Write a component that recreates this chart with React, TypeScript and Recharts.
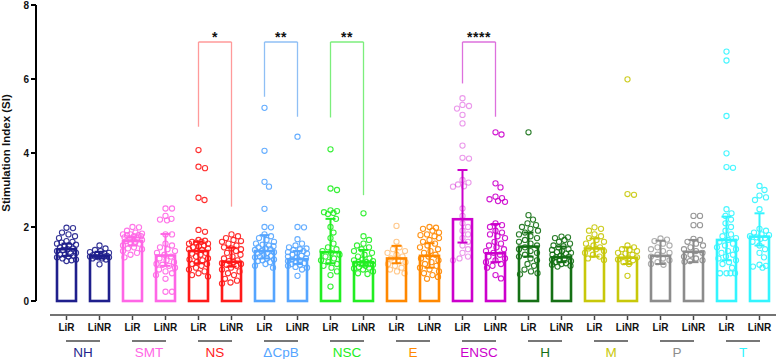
import React from 'react';
import { ComposedChart, Bar, Scatter, XAxis, YAxis, ReferenceLine } from 'recharts';

// ---------- data ----------
const groups = ['NH', 'SMT', 'NS', 'ΔCpB', 'NSC', 'E', 'ENSC', 'H', 'M', 'P', 'T'];
const conditions = ['LiR', 'LiNR'];
const groupColors = ['#1f1f8c', '#ff66e6', '#ff1a1a', '#55a5ff', '#22ee22', '#ff8800', '#cc00cc', '#157015', '#c8c80a', '#8c8c8c', '#33f5ff'];

// bar heights (LiR, LiNR per group)
const barValues = [1.40, 1.22, 1.62, 1.23, 1.35, 1.06, 1.35, 1.13, 1.32, 1.05, 1.15, 1.22, 2.21, 1.29, 1.47, 1.18, 1.42, 1.17, 1.22, 1.33, 1.65, 1.74];
const errLow = [1.22, 1.15, 1.50, 0.95, 1.02, 0.93, 1.15, 1.00, 1.02, 0.95, 1.02, 0.90, 1.58, 1.05, 1.20, 1.05, 1.20, 1.00, 1.00, 1.05, 1.10, 1.50];
const errHigh = [1.55, 1.33, 1.72, 1.81, 1.60, 1.44, 1.78, 1.35, 2.22, 1.38, 1.49, 1.56, 3.54, 2.08, 1.85, 1.47, 1.69, 1.45, 1.63, 1.65, 2.28, 2.37];

const nhLiR = [1.98, 1.97, 1.85, 1.8, 1.75, 1.7, 1.62, 1.6, 1.58, 1.55, 1.52, 1.5, 1.48, 1.45, 1.42, 1.4, 1.38, 1.35, 1.3, 1.28, 1.25, 1.25, 1.22, 1.2, 1.18, 1.15, 1.12, 1.1, 1.08];
const nhLiNR = [1.5, 1.42, 1.38, 1.35, 1.32, 1.3, 1.28, 1.25, 1.24, 1.22, 1.22, 1.2, 1.2, 1.2, 1.18, 1.18, 1.15, 1.15, 1.12, 0.99];
const smtLiR = [2.0, 1.99, 1.9, 1.85, 1.82, 1.8, 1.8, 1.78, 1.78, 1.75, 1.75, 1.72, 1.7, 1.7, 1.68, 1.65, 1.62, 1.6, 1.58, 1.55, 1.5, 1.45, 1.42, 1.4, 1.35, 1.3, 1.25, 1.18];
const smtLiNR = [2.5, 2.5, 2.3, 2.22, 2.2, 2.18, 1.8, 1.8, 1.55, 1.5, 1.45, 1.4, 1.35, 1.3, 1.25, 1.2, 1.15, 1.1, 1.05, 1.0, 0.98, 0.95, 0.9, 0.85, 0.8, 0.75, 0.7, 0.6, 0.25, 0.25];
const nsLiR = [4.08, 3.63, 3.59, 2.79, 2.73, 1.92, 1.87, 1.65, 1.63, 1.6, 1.6, 1.58, 1.55, 1.55, 1.5, 1.48, 1.45, 1.42, 1.4, 1.38, 1.35, 1.3, 1.28, 1.25, 1.2, 1.15, 1.12, 1.1, 1.05, 1.0, 1.0, 0.95, 0.9, 0.85, 0.8, 0.75, 0.7, 0.66];
const nsLiNR = [1.8, 1.75, 1.7, 1.65, 1.62, 1.6, 1.55, 1.5, 1.45, 1.42, 1.4, 1.35, 1.3, 1.25, 1.2, 1.15, 1.1, 1.08, 1.05, 1.02, 1.0, 0.98, 0.95, 0.9, 0.85, 0.8, 0.75, 0.7, 0.6, 0.55, 0.5, 0.47];
const cpbLiR = [5.22, 4.06, 3.22, 3.09, 2.49, 2.0, 1.99, 1.8, 1.75, 1.7, 1.65, 1.6, 1.55, 1.52, 1.5, 1.48, 1.45, 1.42, 1.4, 1.38, 1.35, 1.32, 1.3, 1.28, 1.25, 1.22, 1.2, 1.18, 1.15, 1.12, 1.1, 1.08, 1.05, 1.0, 0.95, 0.9];
const cpbLiNR = [4.44, 2.0, 1.99, 1.67, 1.55, 1.5, 1.45, 1.42, 1.4, 1.38, 1.35, 1.32, 1.3, 1.28, 1.25, 1.22, 1.2, 1.18, 1.15, 1.12, 1.1, 1.08, 1.05, 1.02, 1.0, 0.98, 0.95, 0.92, 0.9, 0.85, 0.68];
const nscLiR = [4.1, 3.04, 3.0, 2.45, 2.43, 2.4, 2.38, 2.35, 2.22, 2.0, 1.85, 1.7, 1.55, 1.45, 1.4, 1.35, 1.3, 1.25, 1.2, 1.15, 1.1, 1.05, 1.0, 0.95, 0.9, 0.8, 0.7, 0.39];
const nscLiNR = [2.37, 1.75, 1.65, 1.55, 1.5, 1.45, 1.4, 1.35, 1.3, 1.25, 1.2, 1.15, 1.12, 1.1, 1.08, 1.05, 1.05, 1.02, 1.0, 1.0, 0.98, 0.95, 0.92, 0.9, 0.88, 0.85, 0.8, 0.75, 0.73];
const eLiR = [2.03, 1.6, 1.45, 1.4, 1.35, 1.3, 1.25, 1.2, 1.15, 1.1, 1.05, 1.0, 0.95, 0.9, 0.85, 0.8, 0.75];
const eLiNR = [2.0, 1.98, 1.95, 1.9, 1.85, 1.8, 1.78, 1.75, 1.7, 1.65, 1.6, 1.55, 1.5, 1.45, 1.4, 1.35, 1.3, 1.25, 1.2, 1.15, 1.1, 1.05, 1.0, 0.95, 0.9, 0.85, 0.8, 0.75, 0.7, 0.65, 0.6];
const enscLiR = [5.48, 5.3, 5.27, 5.2, 5.03, 4.8, 4.2, 3.87, 3.85, 3.27, 3.2, 3.15, 3.1, 3.09, 2.5, 2.3, 2.1, 2.0, 1.9, 1.8, 1.7, 1.6, 1.5, 1.4, 1.3, 1.2, 1.15, 1.1];
const enscLiNR = [4.56, 4.5, 3.18, 3.07, 2.82, 2.78, 2.75, 2.7, 2.68, 2.1, 2.05, 2.0, 1.9, 1.85, 1.8, 1.75, 1.7, 1.6, 1.55, 1.5, 1.45, 1.4, 1.35, 1.3, 1.25, 1.2, 1.15, 1.1, 1.05, 1.0, 0.95, 0.9, 0.7, 0.61];
const hLiR = [4.56, 2.32, 2.2, 2.1, 2.05, 2.0, 1.95, 1.9, 1.85, 1.8, 1.75, 1.7, 1.65, 1.6, 1.55, 1.5, 1.45, 1.4, 1.35, 1.3, 1.25, 1.2, 1.15, 1.1, 1.0, 0.95, 0.85, 0.8, 0.75, 0.72];
const hLiNR = [1.74, 1.72, 1.7, 1.65, 1.6, 1.55, 1.5, 1.48, 1.45, 1.4, 1.38, 1.35, 1.32, 1.3, 1.28, 1.25, 1.22, 1.2, 1.18, 1.15, 1.12, 1.1, 1.08, 1.05, 1.02, 1.0, 0.98, 0.95, 0.93];
const mLiR = [1.99, 1.95, 1.9, 1.8, 1.75, 1.7, 1.65, 1.6, 1.55, 1.5, 1.45, 1.42, 1.4, 1.35, 1.3, 1.25, 1.2, 1.15, 1.11];
const mLiNR = [5.99, 2.89, 2.87, 1.5, 1.45, 1.4, 1.38, 1.35, 1.3, 1.28, 1.25, 1.2, 1.18, 1.15, 1.12, 1.1, 1.05, 1.0, 0.68];
const pLiR = [1.69, 1.66, 1.62, 1.55, 1.5, 1.45, 1.4, 1.35, 1.3, 1.25, 1.2, 1.15, 1.1, 1.05, 1.0, 0.98];
const pLiNR = [2.3, 2.3, 2.05, 2.05, 1.68, 1.65, 1.6, 1.55, 1.5, 1.45, 1.4, 1.35, 1.3, 1.25, 1.2, 1.15, 1.1, 1.08, 1.06];
const tLiR = [6.74, 6.5, 5.0, 3.99, 3.62, 3.6, 2.48, 2.37, 2.3, 2.2, 2.1, 2.0, 1.9, 1.8, 1.75, 1.7, 1.65, 1.6, 1.55, 1.5, 1.45, 1.4, 1.35, 1.3, 1.25, 1.2, 1.15, 1.1, 1.05, 1.0, 0.9, 0.75, 0.75, 0.75, 0.75];
const tLiNR = [3.11, 3.0, 2.85, 2.8, 2.73, 2.48, 1.95, 1.9, 1.85, 1.8, 1.78, 1.75, 1.72, 1.7, 1.68, 1.6, 1.5, 1.4, 1.3, 1.18, 0.98, 0.95, 0.93, 0.9];

const pointSets = [nhLiR, nhLiNR, smtLiR, smtLiNR, nsLiR, nsLiNR, cpbLiR, cpbLiNR, nscLiR, nscLiNR, eLiR, eLiNR, enscLiR, enscLiNR, hLiR, hLiNR, mLiR, mLiNR, pLiR, pLiNR, tLiR, tLiNR];
const pointAlpha = [0.9, 0.9, 0.9, 0.9, 0.9, 0.9, 0.9, 0.9, 0.9, 0.9, 0.45, 0.9, 0.4, 0.9, 0.9, 0.9, 0.9, 0.9, 0.7, 0.9, 0.9, 0.9];

const yTicks = [0, 2, 4, 6, 8];

// significance brackets
const sigGroups = ['NS', 'ΔCpB', 'NSC', 'ENSC'];
const sigMarks = ['*', '**', '**', '****'];
const sigColors = ['#ff9a9a', '#8fbff5', '#7cee7c', '#dd70dd'];
const sigTop = [7.0, 7.0, 7.0, 7.0];
const sigLegLeft = [4.71, 5.52, 4.96, 5.88];
const sigLegRight = [2.55, 4.98, 2.86, 4.98];

// ---------- layout ----------
const W = 778;
const H = 359;
const MARGIN = { top: 5, right: 2, left: 0, bottom: 0 };
const Y_AXIS_W = 50;
const X_AXIS_H = 30;
const G_AXIS_H = 28;
const PLOT_W = W - MARGIN.left - MARGIN.right - Y_AXIS_W;
const PLOT_H = H - MARGIN.top - MARGIN.bottom - X_AXIS_H - G_AXIS_H;
const Y_MAX = 8;
const N_CAT = barValues.length;
const FONT = '"Liberation Sans", Arial, sans-serif';
const AXIS_GAP = 14;

const rows = barValues.map((v, i) => {
  const gi = Math.floor(i / 2);
  const ci = i % 2;
  return {
    key: `${groups[gi]} ${conditions[ci]}`,
    group: groups[gi],
    cond: conditions[ci],
    value: v,
    lo: errLow[i],
    hi: errHigh[i],
    gi,
  };
});

// beeswarm offsets (in px) so points do not overlap
function swarm(vals: number[]) {
  const pxPerY = PLOT_H / Y_MAX;
  const D = 6.3;
  const MAXOFF = 9.5;
  const placed: { x: number; y: number }[] = [];
  const order = vals.map((v, i) => ({ v, i })).sort((a, b) => b.v - a.v);
  const out: { v: number; off: number }[] = [];
  for (const p of order) {
    const py = p.v * pxPerY;
    let best = 0;
    let bestScore = -1;
    for (let k = 0; k <= 40; k++) {
      const off = (k % 2 === 1 ? 1 : -1) * Math.ceil(k / 2) * 0.5;
      if (Math.abs(off) > MAXOFF) break;
      let minD = Infinity;
      for (const q of placed) {
        const d = Math.hypot(off - q.x, py - q.y);
        if (d < minD) minD = d;
      }
      if (minD >= D) {
        best = off;
        bestScore = Infinity;
        break;
      }
      if (minD > bestScore) {
        bestScore = minD;
        best = off;
      }
    }
    placed.push({ x: best, y: py });
    out.push({ v: p.v, off: best });
  }
  return out;
}

const pxPerX = PLOT_W / N_CAT;
const scatterData = pointSets.flatMap((set, i) =>
  swarm(set).map((p) => ({
    x: i + 0.5 + p.off / pxPerX,
    y: p.v,
    color: groupColors[Math.floor(i / 2)],
    alpha: pointAlpha[i],
  }))
);

// ---------- renderers ----------
const BarShape = (props: any) => {
  const { x, y, width, height, payload } = props;
  const color = groupColors[payload.gi];
  const per = height / payload.value;
  const base = y + height;
  const yHi = base - payload.hi * per;
  const yLo = base - payload.lo * per;
  const cx = x + width / 2;
  const cap = 5;
  return (
    <g>
      <rect x={x} y={y} width={width} height={height} fill="none" stroke={color} strokeWidth={2.6} />
      <line x1={cx} y1={yHi} x2={cx} y2={yLo} stroke={color} strokeWidth={2} />
      <line x1={cx - cap} y1={yHi} x2={cx + cap} y2={yHi} stroke={color} strokeWidth={2} />
      <line x1={cx - cap} y1={yLo} x2={cx + cap} y2={yLo} stroke={color} strokeWidth={2} />
    </g>
  );
};

const PointShape = (props: any) => {
  const { cx, cy, payload } = props;
  return <circle cx={cx} cy={cy} r={2.6} fill="none" stroke={payload.color} strokeOpacity={payload.alpha} strokeWidth={1.1} />;
};

const CondTick = (props: any) => {
  const { x, y, payload } = props;
  const cond = String(payload.value).split(' ').pop();
  return (
    <g>
      <line x1={x} y1={y + AXIS_GAP + 1} x2={x} y2={y + AXIS_GAP + 5} stroke="#444" strokeWidth={1.5} />
      <text x={x} y={y + 29.5} textAnchor="middle" fontFamily={FONT} fontWeight="bold" fontSize={10} fill="#111">
        {cond}
      </text>
    </g>
  );
};

const GroupTick = (props: any) => {
  const { x, y, payload } = props;
  const gi = groups.indexOf(String(payload.value));
  return (
    <g>
      <line x1={x - 17} y1={y + 10} x2={x + 17} y2={y + 10} stroke="#4a4a4a" strokeWidth={1.6} />
      <text x={x} y={y + 25.5} textAnchor="middle" fontFamily={FONT} fontSize={13.5} fill={groupColors[gi]}>
        {payload.value}
      </text>
    </g>
  );
};

const YTick = (props: any) => {
  const { x, y, payload } = props;
  return (
    <g>
      <line x1={x - AXIS_GAP - 5} y1={y} x2={x - AXIS_GAP} y2={y} stroke="#000" strokeWidth={2} />
      <text x={x - AXIS_GAP - 7} y={y} dy="0.35em" textAnchor="end" fontFamily={FONT} fontWeight="bold" fontSize={10} fill="#111">
        {payload.value}
      </text>
    </g>
  );
};

const YTitle = (props: any) => {
  const vb = props.viewBox || { x: 0, y: 0, width: 0, height: 0 };
  const cx = vb.x + 10;
  const cy = vb.y + vb.height / 2;
  return (
    <text x={cx} y={cy} transform={`rotate(-90 ${cx} ${cy})`} textAnchor="middle" fontFamily={FONT} fontWeight="bold" fontSize={11.5} fill="#111">
      Stimulation Index (SI)
    </text>
  );
};

const SigLabel = (text: string) => (props: any) => {
  const vb = props.viewBox || { x: 0, y: 0, width: 0 };
  return (
    <text x={vb.x + vb.width / 2} y={vb.y - 0.5} textAnchor="middle" fontFamily={FONT} fontWeight="bold" fontSize={14} fill="#111" letterSpacing={0.5}>
      {text}
    </text>
  );
};

export default function App() {
  return (
    <div style={{ position: 'absolute', left: 0, top: 0, width: W, height: H, background: '#fff' }}>
      <ComposedChart width={W} height={H} data={rows} margin={MARGIN}>
        <XAxis
          dataKey="key"
          xAxisId={0}
          interval={0}
          height={X_AXIS_H}
          tickLine={false}
          tickSize={0}
          tickMargin={0}
          axisLine={{ stroke: '#444', strokeWidth: 1.5, transform: `translate(0,${AXIS_GAP})` } as any}
          tick={<CondTick />}
        />
        <XAxis
          dataKey="group"
          xAxisId="grp"
          allowDuplicatedCategory={false}
          interval={0}
          height={G_AXIS_H}
          tickLine={false}
          tickSize={0}
          tickMargin={0}
          axisLine={false}
          tick={<GroupTick />}
        />
        <XAxis xAxisId="num" type="number" dataKey="x" domain={[0, N_CAT]} hide />
        <YAxis
          domain={[0, Y_MAX]}
          ticks={yTicks}
          width={Y_AXIS_W}
          interval={0}
          tickLine={false}
          tickSize={0}
          tickMargin={0}
          axisLine={{ stroke: '#000', strokeWidth: 2, transform: `translate(-${AXIS_GAP},0)` } as any}
          tick={<YTick />}
          label={<YTitle />}
        />
        <Bar dataKey="value" xAxisId={0} barSize={19} shape={BarShape} isAnimationActive={false} />
        <Scatter data={scatterData} dataKey="y" xAxisId="num" shape={PointShape} isAnimationActive={false} />
        {sigGroups.map((g, k) => {
          const a = `${g} ${conditions[0]}`;
          const b = `${g} ${conditions[1]}`;
          return [
            <ReferenceLine
              key={`top-${g}`}
              xAxisId={0}
              segment={[{ x: a, y: sigTop[k] }, { x: b, y: sigTop[k] }]}
              stroke={sigColors[k]}
              strokeWidth={1.3}
              label={SigLabel(sigMarks[k])}
            />,
            <ReferenceLine
              key={`l-${g}`}
              xAxisId={0}
              segment={[{ x: a, y: sigTop[k] }, { x: a, y: sigLegLeft[k] }]}
              stroke={sigColors[k]}
              strokeWidth={1.3}
            />,
            <ReferenceLine
              key={`r-${g}`}
              xAxisId={0}
              segment={[{ x: b, y: sigTop[k] }, { x: b, y: sigLegRight[k] }]}
              stroke={sigColors[k]}
              strokeWidth={1.3}
            />,
          ];
        })}
      </ComposedChart>
    </div>
  );
}
